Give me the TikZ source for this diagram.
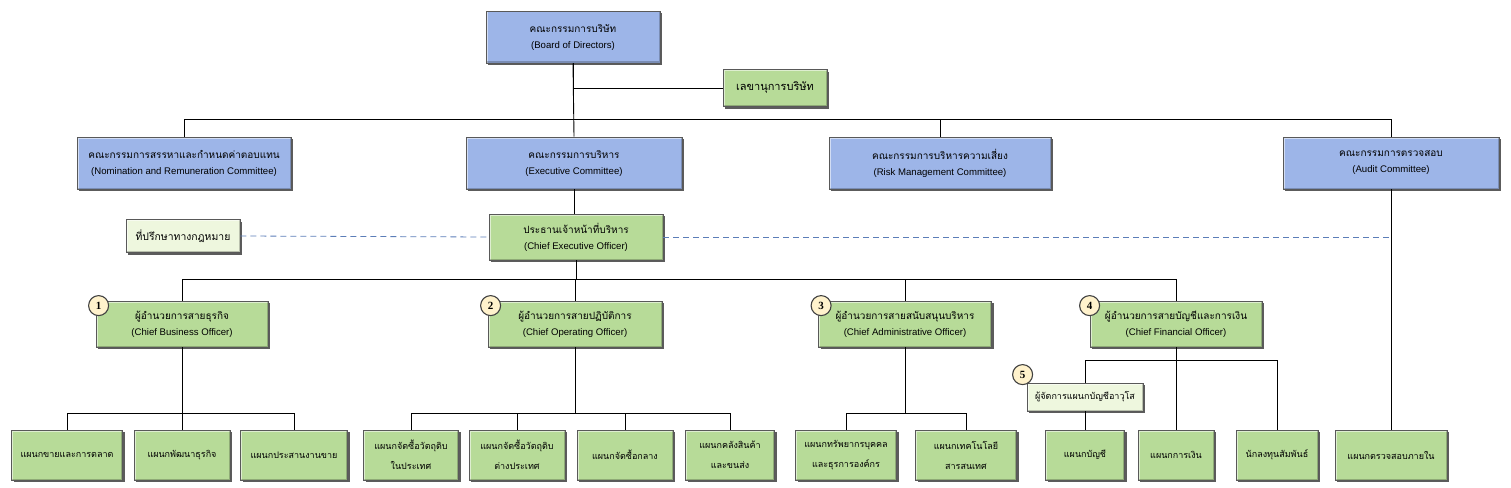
\documentclass[tikz,border=0pt]{standalone}
\usepackage{fontspec}
\setmainfont{Liberation Sans}
\newfontfamily\thaifont[Script=Thai]{Loma}
\newfontfamily\numfont{Liberation Serif}
\usetikzlibrary{shadows}
\definecolor{boardblue}{HTML}{9DB5E8}
\definecolor{unitgreen}{HTML}{B7DB98}
\definecolor{palegreen}{HTML}{EEF7DE}
\definecolor{badgecream}{HTML}{FFF2CC}
\definecolor{dashblue}{HTML}{5B7DB8}
\newcommand{\thtxt}[1]{{\thaifont #1}}
\newcommand{\entxt}[1]{{\fontsize{9.6}{16}\selectfont #1}}
\begin{document}
\begin{tikzpicture}[x=1pt, y=-1pt,
		box/.style = {rectangle, draw=black!65, line width=0.8pt, align=center, inner sep=2pt,
			font=\fontsize{9}{16}\selectfont,
			path picture={
				\draw[white, opacity=0.55, line width=3pt] (path picture bounding box.south west) -- (path picture bounding box.north west) -- (path picture bounding box.north east);
				\draw[black, opacity=0.22, line width=3pt] (path picture bounding box.north east) -- (path picture bounding box.south east) -- (path picture bounding box.south west);
			},
			drop shadow={shadow xshift=2pt, shadow yshift=-2pt, opacity=0.8, fill=black!80}},
		board/.style = {box, fill=boardblue, minimum height=52, font=\fontsize{10}{16}\selectfont},
		chief/.style = {box, fill=unitgreen, minimum height=46, font=\fontsize{10}{16}\selectfont},
		dept/.style = {box, fill=unitgreen, minimum height=50},
		aide/.style = {box, fill=palegreen, minimum height=30},
		badge/.style = {circle, draw=black!75, fill=badgecream, line width=1.1pt, minimum size=20, inner sep=0pt, font=\numfont\bfseries\fontsize{11}{11}\selectfont},
		link/.style = {line width=0.9pt},
		advice/.style = {dashed, dash pattern=on 6pt off 4pt, draw=dashblue, line width=0.8pt}
		]
		\useasboundingbox (0,0) rectangle (1511,487);
		
		%Buses
		\coordinate	(busA)	at	(0,119);
		\coordinate	(busB)	at	(0,279);
		\coordinate	(busC)	at	(0,360);
		\coordinate	(busD)	at	(0,413);
		
		%Nodes
		\node[board, minimum width=174]	(bod)	at	(573,37)	{\thtxt{คณะกรรมการบริษัท}\\\entxt{(Board of Directors)}};
		\node[chief, minimum width=104, minimum height=37, font=\fontsize{11}{16}\selectfont]	(sec)	at	(775,88)	{\thtxt{เลขานุการบริษัท}};
		\node[board, minimum width=214]	(nom)	at	(184,163)	{\thtxt{คณะกรรมการสรรหาและกำหนดค่าตอบแทน}\\\entxt{(Nomination and Remuneration Committee)}};
		\node[board, minimum width=216]	(exc)	at	(574,163)	{\thtxt{คณะกรรมการบริหาร}\\\entxt{(Executive Committee)}};
		\node[board, minimum width=222]	(risk)	at	(940,163)	{\thtxt{คณะกรรมการบริหารความเสี่ยง}\\\entxt{(Risk Management Committee)}};
		\node[board, minimum width=216]	(aud)	at	(1391,163)	{\thtxt{คณะกรรมการตรวจสอบ}\\\entxt{(Audit Committee)}};
		\node[aide, minimum width=114, minimum height=33, font=\fontsize{10.4}{16}\selectfont]	(legal)	at	(183,236)	{\thtxt{ที่ปรึกษาทางกฎหมาย}};
		\node[chief, minimum width=174]	(ceo)	at	(576,237)	{\thtxt{ประธานเจ้าหน้าที่บริหาร}\\\entxt{(Chief Executive Officer)}};
		
		\node[chief, minimum width=172]	(cbo)	at	(182,324)	{\thtxt{ผู้อำนวยการสายธุรกิจ}\\\entxt{(Chief Business Officer)}};
		\node[chief, minimum width=174]	(coo)	at	(575,324)	{\thtxt{ผู้อำนวยการสายปฏิบัติการ}\\\entxt{(Chief Operating Officer)}};
		\node[chief, minimum width=173]	(cao)	at	(905,324)	{\thtxt{ผู้อำนวยการสายสนับสนุนบริหาร}\\\entxt{(Chief Administrative Officer)}};
		\node[chief, minimum width=172]	(cfo)	at	(1176,324)	{\thtxt{ผู้อำนวยการสายบัญชีและการเงิน}\\\entxt{(Chief Financial Officer)}};
		\node[aide, minimum width=116, minimum height=28]	(sam)	at	(1085,397)	{\thtxt{ผู้จัดการแผนกบัญชีอาวุโส}};
		
		\node[dept, minimum width=111]	(d1)	at	(67,455)	{\thtxt{แผนกขายและการตลาด}};
		\node[dept, minimum width=96]	(d2)	at	(182,455)	{\thtxt{แผนกพัฒนาธุรกิจ}};
		\node[dept, minimum width=107]	(d3)	at	(294,455)	{\thtxt{แผนกประสานงานขาย}};
		\node[dept, minimum width=95]	(d4)	at	(411,455)	{\thtxt{แผนกจัดซื้อวัตถุดิบ}\\[4pt]\thtxt{ในประเทศ}};
		\node[dept, minimum width=96]	(d5)	at	(517,455)	{\thtxt{แผนกจัดซื้อวัตถุดิบ}\\[4pt]\thtxt{ต่างประเทศ}};
		\node[dept, minimum width=96]	(d6)	at	(625,455)	{\thtxt{แผนกจัดซื้อกลาง}};
		\node[dept, minimum width=89]	(d7)	at	(730,455)	{\thtxt{แผนกคลังสินค้า}\\[4pt]\thtxt{และขนส่ง}};
		\node[dept, minimum width=101]	(d8)	at	(846,455)	{\thtxt{แผนกทรัพยากรบุคคล}\\[4pt]\thtxt{และธุรการองค์กร}};
		\node[dept, minimum width=101]	(d9)	at	(966,455)	{\thtxt{แผนกเทคโนโลยี}\\[4pt]\thtxt{สารสนเทศ}};
		\node[dept, minimum width=79]	(d10)	at	(1085,455)	{\thtxt{แผนกบัญชี}};
		\node[dept, minimum width=76]	(d11)	at	(1176,455)	{\thtxt{แผนกการเงิน}};
		\node[dept, minimum width=82]	(d12)	at	(1277,455)	{\thtxt{นักลงทุนสัมพันธ์}};
		\node[dept, minimum width=112]	(d13)	at	(1391,455)	{\thtxt{แผนกตรวจสอบภายใน}};
		
		%Badges
		\node[badge]	(n1)	at	([shift={(3,5)}]cbo.north west)	{1};
		\node[badge]	(n2)	at	([shift={(3,5)}]coo.north west)	{2};
		\node[badge]	(n3)	at	([shift={(3,5)}]cao.north west)	{3};
		\node[badge]	(n4)	at	([shift={(0,5)}]cfo.north west)	{4};
		\node[badge]	(n5)	at	([shift={(-4,-8)}]sam.north west)	{5};
		
		%Lines
		\draw[link]	(bod.south)	|-	(sec.west);
		\draw[link]	(bod.south)	--	(exc.north);
		\draw[link]	(bod.south |- busA)	-|	(nom.north);
		\draw[link]	(bod.south |- busA)	-|	(risk.north);
		\draw[link]	(bod.south |- busA)	-|	(aud.north);
		\draw[link]	(exc.south)	--	(exc.south |- ceo.north);
		\draw[link]	(aud.south)	--	(d13.north);
		\draw[advice]	(legal.east)	--	(ceo.west);
		\draw[advice]	(ceo.east)	--	(ceo.east -| aud.south);
		
		\draw[link]	(ceo.south)	--	(ceo.south |- busB);
		\foreach \c in {cbo, coo, cao, cfo}
			\draw[link]	(ceo.south |- busB)	-|	(\c.north);
		
		\draw[link]	(cbo.south)	--	(cbo.south |- busD);
		\foreach \d in {d1, d2, d3}
			\draw[link]	(cbo.south |- busD)	-|	(\d.north);
		\draw[link]	(coo.south)	--	(coo.south |- busD);
		\foreach \d in {d4, d5, d6, d7}
			\draw[link]	(coo.south |- busD)	-|	(\d.north);
		\draw[link]	(cao.south)	--	(cao.south |- busD);
		\foreach \d in {d8, d9}
			\draw[link]	(cao.south |- busD)	-|	(\d.north);
		
		\draw[link]	(cfo.south)	--	(d11.north);
		\draw[link]	(cfo.south |- busC)	-|	(sam.north);
		\draw[link]	(cfo.south |- busC)	-|	(d12.north);
		\draw[link]	(sam.south)	--	(d10.north);
	\end{tikzpicture}
\end{document}
